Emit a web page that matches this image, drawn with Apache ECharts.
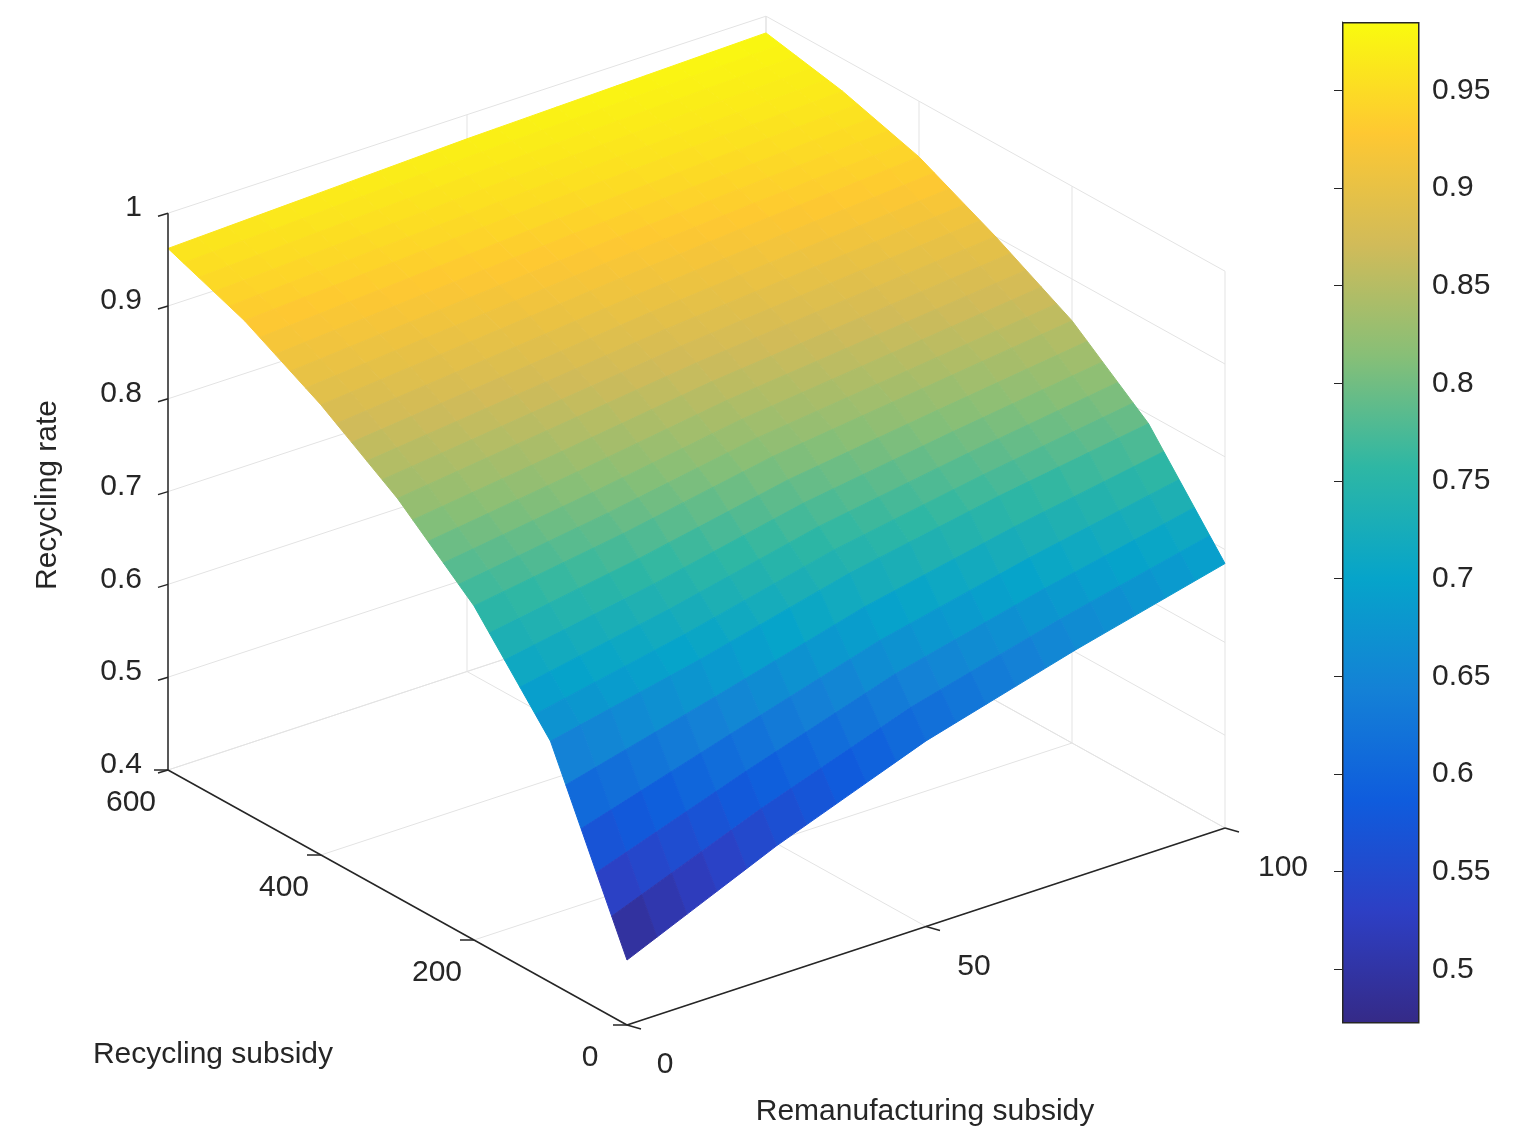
<!DOCTYPE html>
<html>
<head>
<meta charset="utf-8">
<script src="https://cdn.jsdelivr.net/npm/echarts@6/dist/echarts.min.js"></script>
<style>html,body{margin:0;background:#fff}#main{width:1514px;height:1148px}</style>
</head>
<body>
<div id="main"></div>
<script>
// 数据: 再制造补贴(x), 回收补贴(y), 回收率(z)
var remanu = [0, 25, 50, 75, 100];
var recyc = [0, 100, 200, 300, 400, 500, 600];
var rate0 = [0.47, 0.66, 0.76, 0.83, 0.885, 0.93, 0.962];
var rate25 = [0.54, 0.695, 0.785, 0.85, 0.9, 0.94, 0.968];
var rate50 = [0.60, 0.735, 0.815, 0.87, 0.915, 0.95, 0.974];
var rate75 = [0.645, 0.765, 0.835, 0.885, 0.928, 0.958, 0.978];
var rate100 = [0.685, 0.79, 0.855, 0.9, 0.94, 0.965, 0.982];
var rate = [rate0, rate25, rate50, rate75, rate100];
var zTicks = [0.4, 0.5, 0.6, 0.7, 0.8, 0.9, 1];
var xTicks = [0, 50, 100];
var yTicks = [0, 200, 400, 600];
var cbTicks = [0.5, 0.55, 0.6, 0.65, 0.7, 0.75, 0.8, 0.85, 0.9, 0.95];
var cbMin = 0.473, cbMax = 0.985;
var parula = ['#352a87', '#2d3fc4', '#0f5cdd', '#1481d6', '#06a4ca', '#2eb7a4', '#87bf77', '#d1bb59', '#fec832', '#f9fb0e'];

var font = 'Liberation Sans, Arial, sans-serif';
var txt = '#262626';

//3D投影到像素
function proj(api, x, y, z) {
    var px = 627 + x / 100 * 598 - y / 600 * 459;
    var py = 1025 - x / 100 * 197 - y / 600 * 255 - (z - 0.4) * 928;
    return api.coord([px, py]);
}
function colorOf(v) {
    var t = Math.max(0, Math.min(1, (v - cbMin) / (cbMax - cbMin)));
    return echarts.color.lerp(t, parula);
}
function zAt(i, j, u, w) {
    var a = rate[i][j], b = rate[i + 1][j], c = rate[i][j + 1], d = rate[i + 1][j + 1];
    return a * (1 - u) * (1 - w) + b * u * (1 - w) + c * (1 - u) * w + d * u * w;
}

var cells = [];
for (var i = 0; i < remanu.length - 1; i++) {
    for (var j = 0; j < recyc.length - 1; j++) cells.push([i, j]);
}
cells.sort(function (p, q) { return (q[0] / 4 + q[1] / 6) - (p[0] / 4 + p[1] / 6); });

function line(a, b, color, w) {
    return {type: 'line', shape: {x1: a[0], y1: a[1], x2: b[0], y2: b[1]}, style: {stroke: color, lineWidth: w || 1}};
}
function text(p, s, align, vAlign, rot) {
    return {type: 'text', x: p[0], y: p[1], rotation: rot || 0,
        style: {text: s, font: '30px ' + font, fill: txt, align: align, verticalAlign: vAlign}};
}

function renderWalls(params, api) {
    var g = '#e3e3e3', ch = [];
    zTicks.forEach(function (z) {
        ch.push(line(proj(api, 0, 600, z), proj(api, 100, 600, z), g));
        ch.push(line(proj(api, 100, 600, z), proj(api, 100, 0, z), g));
    });
    xTicks.forEach(function (x) {
        ch.push(line(proj(api, x, 600, 0.4), proj(api, x, 600, 1), g));
        ch.push(line(proj(api, x, 0, 0.4), proj(api, x, 600, 0.4), g));
    });
    yTicks.forEach(function (y) {
        ch.push(line(proj(api, 100, y, 0.4), proj(api, 100, y, 1), g));
        ch.push(line(proj(api, 0, y, 0.4), proj(api, 100, y, 0.4), g));
    });
    return {type: 'group', children: ch};
}

function renderCell(params, api) {
    var i = api.value(0), j = api.value(1), n = 5, ch = [];
    for (var a = n - 1; a >= 0; a--) {
        for (var b = n - 1; b >= 0; b--) {
            var u0 = a / n, u1 = (a + 1) / n, w0 = b / n, w1 = (b + 1) / n;
            var x0 = remanu[i] + (remanu[i + 1] - remanu[i]) * u0, x1 = remanu[i] + (remanu[i + 1] - remanu[i]) * u1;
            var y0 = recyc[j] + (recyc[j + 1] - recyc[j]) * w0, y1 = recyc[j] + (recyc[j + 1] - recyc[j]) * w1;
            var pts = [proj(api, x0, y0, zAt(i, j, u0, w0)), proj(api, x1, y0, zAt(i, j, u1, w0)),
                proj(api, x1, y1, zAt(i, j, u1, w1)), proj(api, x0, y1, zAt(i, j, u0, w1))];
            var c = colorOf(zAt(i, j, (u0 + u1) / 2, (w0 + w1) / 2));
            ch.push({type: 'polygon', shape: {points: pts}, style: {fill: c, stroke: c, lineWidth: 1}});
        }
    }
    return {type: 'group', children: ch};
}

function renderAxes(params, api) {
    var k = '#262626', ch = [];
    ch.push(line(proj(api, 0, 600, 0.4), proj(api, 0, 600, 1), k, 1.5));
    ch.push(line(proj(api, 0, 0, 0.4), proj(api, 0, 600, 0.4), k, 1.5));
    ch.push(line(proj(api, 0, 0, 0.4), proj(api, 100, 0, 0.4), k, 1.5));
    zTicks.forEach(function (z) {
        var p = proj(api, 0, 600, z);
        ch.push(line(p, [p[0] - 10, p[1] + 3], k, 1.5));
        ch.push(text([p[0] - 26, p[1] - 5], String(z), 'right', 'middle'));
    });
    yTicks.forEach(function (y) {
        var p = proj(api, 0, y, 0.4);
        ch.push(line(p, [p[0] - 14, p[1]], k, 1.5));
        ch.push(text([p[0] - 37, p[1] + 33], String(y), 'center', 'middle'));
    });
    xTicks.forEach(function (x) {
        var p = proj(api, x, 0, 0.4);
        ch.push(line(p, [p[0] + 14, p[1] + 4], k, 1.5));
        ch.push(text([p[0] + 38 + x * 0.2, p[1] + 40], String(x), 'center', 'middle'));
    });
    ch.push(text(api.coord([48, 495]), 'Recycling rate', 'center', 'middle', Math.PI / 2));
    ch.push(text(api.coord([213, 1055]), 'Recycling subsidy', 'center', 'middle'));
    ch.push(text(api.coord([925, 1112]), 'Remanufacturing subsidy', 'center', 'middle'));
    return {type: 'group', children: ch};
}

var chart = echarts.init(document.getElementById('main'));
var stops = parula.map(function (c, idx) { return {offset: 1 - idx / (parula.length - 1), color: c}; });
chart.setOption({
    animation: false,
    grid: [
        {left: 0, top: 0, right: 0, bottom: 0},
        {left: 1342, top: 22, width: 76, height: 1000}
    ],
    xAxis: [
        {type: 'value', min: 0, max: 1514, show: false, gridIndex: 0},
        {type: 'value', min: 0, max: 1, show: false, gridIndex: 1}
    ],
    yAxis: [
        {type: 'value', min: 0, max: 1148, inverse: true, show: false, gridIndex: 0},
        {type: 'value', min: cbMin, max: cbMax, gridIndex: 1, position: 'right',
            splitLine: {show: false},
            axisLine: {show: true, lineStyle: {color: '#262626'}},
            axisTick: {inside: true, length: 8, customValues: cbTicks, lineStyle: {color: '#262626'}},
            axisLabel: {customValues: cbTicks, fontSize: 30, color: txt, fontFamily: font, margin: 14}}
    ],
    graphic: [
        {type: 'rect', left: 1342, top: 22, z: -1, shape: {width: 76, height: 1000},
            style: {fill: new echarts.graphic.LinearGradient(0, 0, 0, 1, stops), stroke: '#262626', lineWidth: 1.5}}
    ],
    series: [
        {type: 'custom', renderItem: renderWalls, data: [[0, 0]], silent: true, z: 1},
        {type: 'custom', renderItem: renderCell, data: cells, silent: true, z: 2},
        {type: 'custom', renderItem: renderAxes, data: [[0, 0]], silent: true, z: 3}
    ]
});
</script>
</body>
</html>
